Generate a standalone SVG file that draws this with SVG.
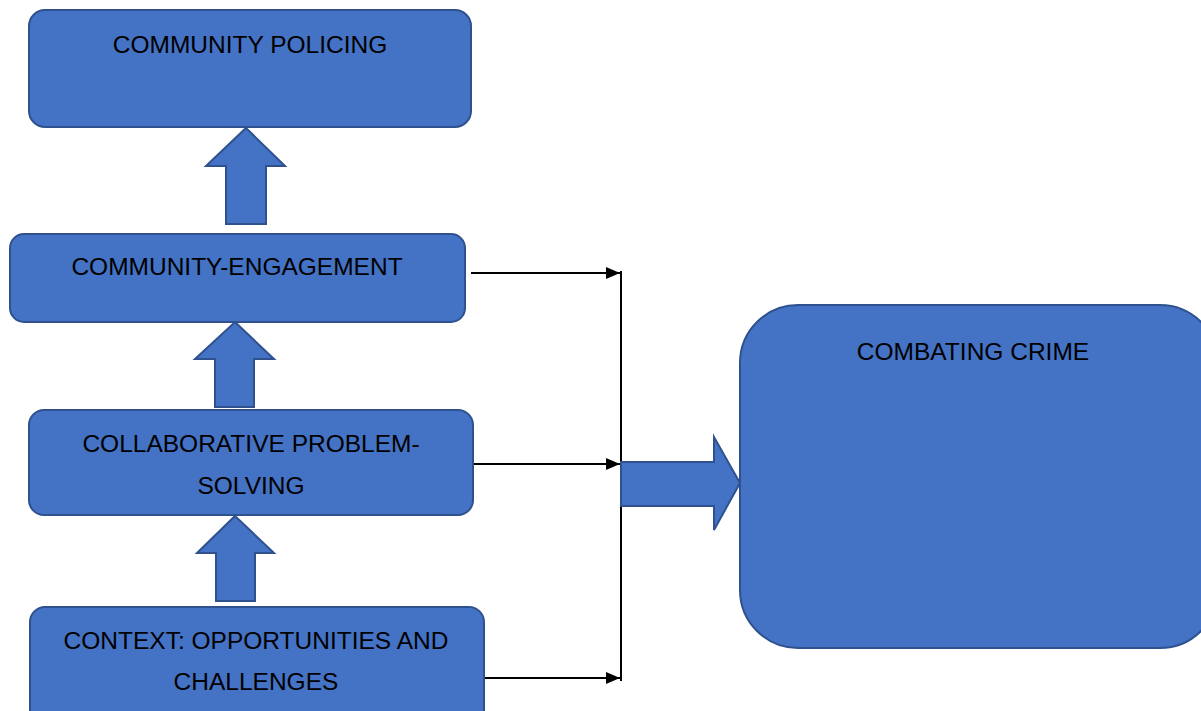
<svg xmlns="http://www.w3.org/2000/svg" width="1201" height="711" viewBox="0 0 1201 711">
<style>
.box{fill:#4472C4;stroke:#2F528F;stroke-width:2}
.blk{fill:#4472C4;stroke:#2F528F;stroke-width:2;stroke-linejoin:miter}
.t{font-family:"Liberation Sans",Arial,sans-serif;font-size:24.5px;fill:#000;text-anchor:middle}
.c{stroke:#000;stroke-width:2;fill:none}
</style>
<defs>
<marker id="ah" markerWidth="14" markerHeight="12" viewBox="0 0 14 12" refX="14" refY="6" orient="auto" markerUnits="userSpaceOnUse">
<path d="M0,0 L14,6 L0,12 Z" fill="#000"/>
</marker>
</defs>
<rect width="1201" height="711" fill="#fff"/>
<g id="connectors">
<line class="c" x1="471" y1="273" x2="620" y2="273" marker-end="url(#ah)"/>
<line class="c" x1="474" y1="464" x2="620" y2="464" marker-end="url(#ah)"/>
<line class="c" x1="484" y1="678" x2="620" y2="678" marker-end="url(#ah)"/>
<line class="c" x1="621" y1="271" x2="621" y2="681"/>
<polygon id="arrow-up-1" class="blk" points="246,128 285,166 266,166 266,224 226,224 226,166 206,166"/>
<polygon id="arrow-up-2" class="blk" points="235,322 274,359 254,359 254,407 215,407 215,359 195,359"/>
<polygon id="arrow-up-3" class="blk" points="235,516 274,553 255,553 255,601 216,601 216,553 197,553"/>
<polygon id="arrow-right" class="blk" points="621,462 714,462 714,437 740,483 714,530 714,506 621,506"/>
</g>
<g id="node-policing">
<rect class="box" x="29" y="10" width="442" height="117" rx="16"/>
<text class="t" x="250" y="53">COMMUNITY POLICING</text>
</g>
<g id="node-engagement">
<rect class="box" x="10" y="234" width="455" height="88" rx="14"/>
<text class="t" x="237" y="275">COMMUNITY-ENGAGEMENT</text>
</g>
<g id="node-collab">
<rect class="box" x="29" y="410" width="444" height="105" rx="15"/>
<text class="t" x="251" y="452">COLLABORATIVE PROBLEM-</text>
<text class="t" x="251" y="494">SOLVING</text>
</g>
<g id="node-context">
<rect class="box" x="30" y="607" width="454" height="120" rx="15"/>
<text class="t" x="256" y="649">CONTEXT: OPPORTUNITIES AND</text>
<text class="t" x="256" y="690">CHALLENGES</text>
</g>
<g id="node-crime">
<rect class="box" x="740" y="305" width="478" height="343" rx="58"/>
<text class="t" x="973" y="360">COMBATING CRIME</text>
</g>
</svg>
